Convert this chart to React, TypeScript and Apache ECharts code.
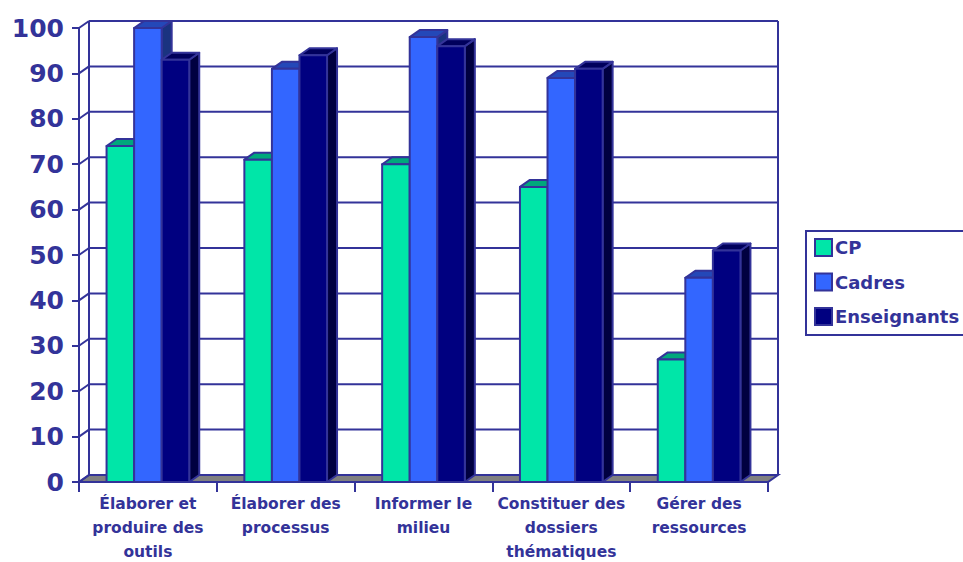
import React, { useEffect, useRef } from "react";
import * as echarts from "echarts";

const categories = [
  "Élaborer et\nproduire des\noutils",
  "Élaborer des\nprocessus",
  "Informer le\nmilieu",
  "Constituer des\ndossiers\nthématiques",
  "Gérer des\nressources",
];
const cpValues = [74, 71, 70, 65, 27];
const cadresValues = [100, 91, 98, 89, 45];
const enseignantsValues = [93, 94, 96, 91, 51];
const yTicks = [0, 10, 20, 30, 40, 50, 60, 70, 80, 90, 100];

const INK = "#333399";
const DX = 10;
const DY = -7;

const bar3d = (slot: number, front: string, top: string, side: string) => (params: any, api: any) => {
  const band = api.size([1, 0])[0];
  const w = band * 0.2;
  const c = api.coord([api.value(0), api.value(1)]);
  const b = api.coord([api.value(0), 0]);
  const x0 = c[0] + (slot - 1.5) * w;
  const x1 = x0 + w;
  const yT = c[1];
  const yB = b[1];
  const edge = { stroke: INK, lineWidth: 2, lineJoin: "round" };
  return {
    type: "group",
    children: [
      {
        type: "polygon",
        shape: { points: [[x1, yT], [x1 + DX, yT + DY], [x1 + DX, yB + DY], [x1, yB]] },
        style: { fill: side, ...edge },
      },
      {
        type: "polygon",
        shape: { points: [[x0, yT], [x0 + DX, yT + DY], [x1 + DX, yT + DY], [x1, yT]] },
        style: { fill: top, ...edge },
      },
      {
        type: "rect",
        shape: { x: x0, y: yT, width: w, height: yB - yT },
        style: { fill: front, ...edge },
      },
    ],
  };
};

const walls = (params: any, api: any) => {
  const v = api.value(0);
  const p = api.coord([0, v]);
  const left = p[0] - api.size([1, 0])[0] / 2;
  const band = api.size([1, 0])[0];
  const right = left + band * categories.length;
  const y = p[1];
  const line = { stroke: INK, lineWidth: 2 };
  const children: any[] = [];
  if (v === 0) {
    const top = api.coord([0, 100])[1];
    children.push(
      {
        type: "polygon",
        shape: { points: [[left, y], [left + DX, y + DY], [right + DX, y + DY], [right, y]] },
        style: { fill: "#808080", stroke: INK, lineWidth: 2 },
      },
      { type: "line", shape: { x1: left + DX, y1: y + DY, x2: left + DX, y2: top + DY }, style: line },
      { type: "line", shape: { x1: right + DX, y1: y + DY, x2: right + DX, y2: top + DY }, style: line },
    );
  } else {
    children.push({
      type: "line",
      shape: { x1: left + DX, y1: y + DY, x2: right + DX, y2: y + DY },
      style: line,
    });
  }
  children.push({ type: "line", shape: { x1: left, y1: y, x2: left + DX, y2: y + DY }, style: line });
  return { type: "group", children };
};

const seriesOf = (
  name: string,
  values: number[],
  slot: number,
  front: string,
  top: string,
  side: string,
) => ({
  type: "custom",
  name,
  z: 3,
  clip: false,
  renderItem: bar3d(slot, front, top, side),
  itemStyle: { color: front, borderColor: INK, borderWidth: 2 },
  encode: { x: 0, y: 1 },
  data: values.map((v, i) => [i, v]),
});

export default function App() {
  const ref = useRef<HTMLDivElement>(null);
  useEffect(() => {
    document.body.style.margin = "0";
    const chart = echarts.init(ref.current!, undefined, { renderer: "svg" });
    chart.setOption({
      animation: false,
      backgroundColor: "#ffffff",
      grid: { left: 79, top: 28, width: 689, height: 454, outerBoundsMode: "none" },
      legend: {
        orient: "vertical",
        left: 806,
        top: 231,
        padding: [7, 10, 9, 8],
        itemWidth: 17,
        itemHeight: 17,
        itemGap: 15.5,
        icon: "rect",
        borderColor: INK,
        borderWidth: 2,
        data: ["CP", "Cadres", "Enseignants"],
        textStyle: {
          color: INK,
          fontFamily: "DejaVu Sans",
          fontWeight: "bold",
          fontSize: 18,
          padding: [0, 0, 0, -2],
        },
      },
      xAxis: {
        type: "category",
        data: categories,
        axisLine: { lineStyle: { color: INK, width: 2 } },
        axisTick: { show: true, length: 10, lineStyle: { color: INK, width: 2 } },
        axisLabel: {
          interval: 0,
          color: INK,
          fontFamily: "DejaVu Sans",
          fontWeight: "bold",
          fontSize: 15.5,
          lineHeight: 24,
          margin: 10,
        },
      },
      yAxis: {
        type: "value",
        min: 0,
        max: 100,
        interval: 10,
        splitLine: { show: false },
        axisLine: { show: true, lineStyle: { color: INK, width: 2 } },
        axisTick: { show: true, length: 7, lineStyle: { color: INK, width: 2 } },
        axisLabel: {
          color: INK,
          fontFamily: "DejaVu Sans",
          fontWeight: "bold",
          fontSize: 25,
          margin: 15,
        },
      },
      series: [
        {
          type: "custom",
          name: "walls",
          z: 1,
          clip: false,
          renderItem: walls,
          encode: { y: 0 },
          data: yTicks.map((t) => [t]),
        },
        seriesOf("CP", cpValues, 0, "#00e6a8", "#00a87c", "#007a5a"),
        seriesOf("Cadres", cadresValues, 1, "#3366ff", "#2448b8", "#1a3380"),
        seriesOf("Enseignants", enseignantsValues, 2, "#000080", "#00005c", "#000040"),
      ],
    });
    return () => chart.dispose();
  }, []);
  return <div ref={ref} style={{ width: 963, height: 562 }} />;
}
